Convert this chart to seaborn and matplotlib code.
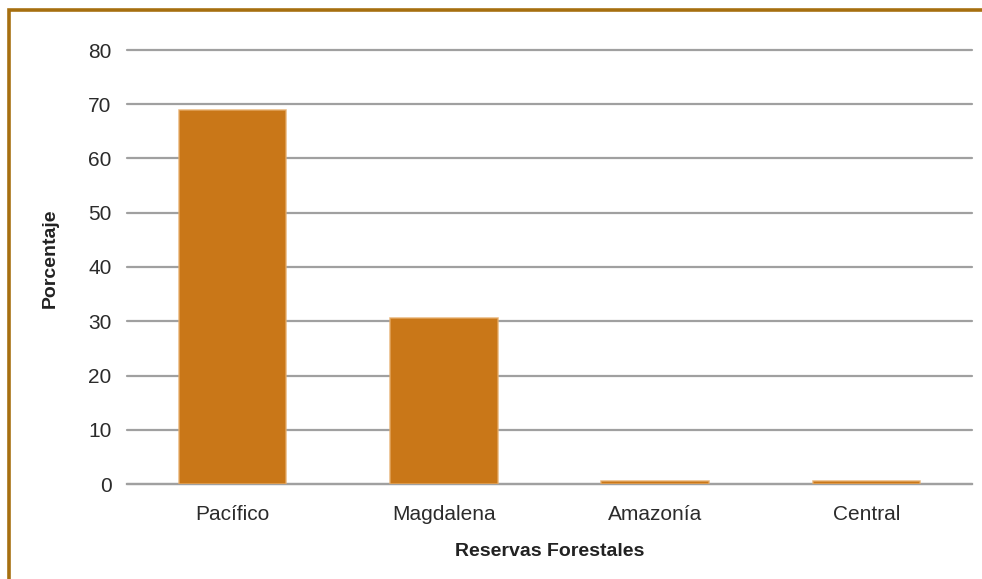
import matplotlib
matplotlib.use("Agg")
import matplotlib.pyplot as plt
from matplotlib.patches import Rectangle
import pandas as pd
import seaborn as sns

# Share of forest reserve area by region (%)
regiones = ["Pacífico", "Magdalena", "Amazonía", "Central"]
porcentajes = [69.0, 30.6, 0.5, 0.5]
ticks_y = [0, 10, 20, 30, 40, 50, 60, 70, 80]

df = pd.DataFrame({"Región": regiones, "Porcentaje": porcentajes})

sns.set_theme(style="white")
plt.rcParams["font.family"] = ["Liberation Sans", "DejaVu Sans"]

W, H = 982, 579
fig = plt.figure(figsize=(W / 100, H / 100), dpi=100)
ax = fig.add_axes([127 / W, 95 / H, 845 / W, 434 / H])

sns.barplot(data=df, x="Región", y="Porcentaje", ax=ax, width=0.51,
            color="#C97718", saturation=1, edgecolor=(0.90, 0.68, 0.42, 0.85),
            linewidth=1.1, zorder=3)

ax.set_ylim(0, 80)
ax.set_xlim(-0.5, len(regiones) - 0.5)
ax.set_yticks(ticks_y)
ax.yaxis.grid(True, color="#A0A0A0", linewidth=1.6, zorder=0)
for gl in ax.get_ygridlines():
    gl.set_clip_on(False)
ax.set_axisbelow(True)
for side in ["top", "right", "left"]:
    ax.spines[side].set_visible(False)
ax.spines["bottom"].set_color("#A0A0A0")
ax.spines["bottom"].set_linewidth(1.6)
ax.tick_params(axis="both", length=0, labelsize=15, colors="#2b2b2b")
ax.tick_params(axis="y", pad=11)
ax.tick_params(axis="x", pad=15)

ax.set_xlabel("Reservas Forestales", fontsize=14, fontweight="bold",
              color="#222222", va="center")
ax.xaxis.set_label_coords(0.5, (484 - 552) / 434)
ax.set_ylabel("Porcentaje", fontsize=14, fontweight="bold",
              color="#222222", va="center")
ax.yaxis.set_label_coords((50 - 127) / 845, 0.52)

# Open frame around the chart
fig.patches.append(Rectangle((9 / W, -0.05), 1.2, (H - 10) / H + 0.05,
                             transform=fig.transFigure, fill=False,
                             edgecolor="#A66F10", linewidth=2.6))

fig.savefig("out.png", dpi=100)
